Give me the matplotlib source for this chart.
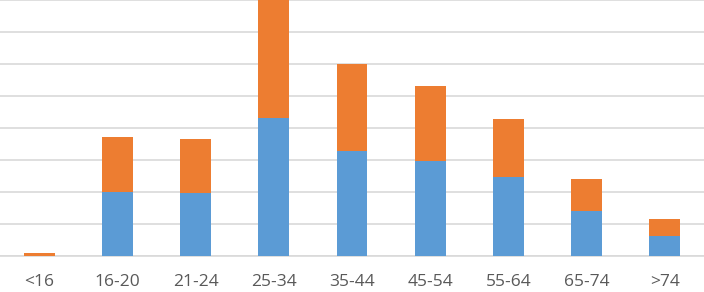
import numpy as np
import matplotlib.pyplot as plt

plt.rcParams['font.family'] = ['Open Sans', 'DejaVu Sans']

age_groups = ['<16', '16-20', '21-24', '25-34', '35-44', '45-54', '55-64', '65-74', '>74']
blue_vals = [0.0, 2.0, 1.98, 4.33, 3.30, 2.99, 2.47, 1.41, 0.64]
orange_vals = [0.12, 1.73, 1.69, 3.67, 2.71, 2.34, 1.83, 1.01, 0.52]

fig = plt.figure(figsize=(7.04, 2.92), dpi=100)
ax = fig.add_axes([0, 0.1216, 1, 0.878])

x = np.arange(len(age_groups))
ax.bar(x, blue_vals, width=0.395, color='#5B9BD5', zorder=3)
ax.bar(x, orange_vals, width=0.395, bottom=blue_vals, color='#ED7D31', zorder=3)

ax.set_xlim(-0.5, len(age_groups) - 0.5)
ax.set_ylim(0, 8)
ax.set_yticks(np.arange(0, 9))
ax.yaxis.grid(True, color='#D9D9D9', linewidth=1.2, zorder=0)
ax.set_yticklabels([])
ax.tick_params(axis='y', length=0)

ax.set_xticks(x)
ax.set_xticklabels(age_groups, fontsize=12.5, color='#595959')
ax.tick_params(axis='x', length=0, pad=12.5)

for s in ['top', 'left', 'right']:
    ax.spines[s].set_visible(False)
ax.spines['bottom'].set_color('#D9D9D9')
ax.spines['bottom'].set_linewidth(1.2)

fig.savefig('out.png', dpi=100)
